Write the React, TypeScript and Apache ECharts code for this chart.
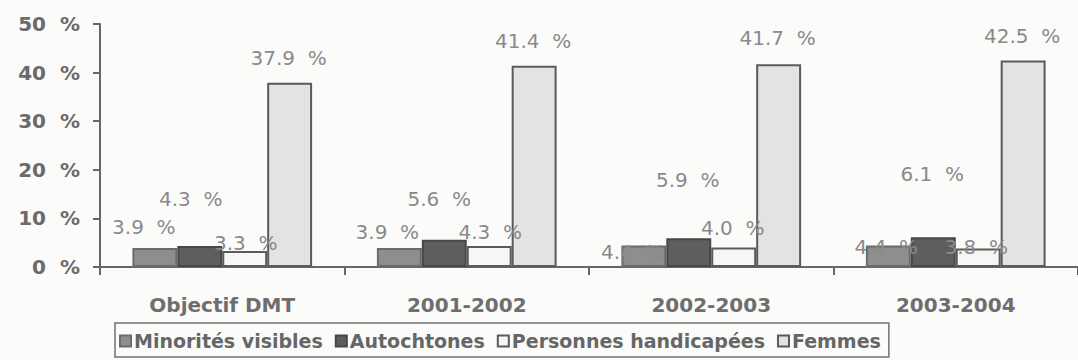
import React, { useEffect, useRef } from "react";
import * as echarts from "echarts";

// Categories and series values (percent)
const categories = ["Objectif DMT", "2001-2002", "2002-2003", "2003-2004"];
const minoritesVisibles = [3.9, 3.9, 4.4, 4.4];
const autochtones = [4.3, 5.6, 5.9, 6.1];
const personnesHandicapees = [3.3, 4.3, 4.0, 3.8];
const femmes = [37.9, 41.4, 41.7, 42.5];

// Value axis
const yMin = 0;
const yMax = 50;
const yStep = 10;

const seriesNames = [
  "Minorités visibles",
  "Autochtones",
  "Personnes handicapées",
  "Femmes",
];

// Hand-placed value label offsets [dx, dy] for each bar
const labelNudges: number[][][] = [
  [[-11, -11], [-12, -6], [-11, 16], [-2, 11]],
  [[-9, -37], [-5, -31], [-1, -48], [-1, -53]],
  [[1, 2], [1, -4], [-1, -10], [-2, 8]],
  [[-1, -15], [-1, -15], [-1, -16], [-1, -14]],
];

const fills = ["#8e8e8e", "#5e5e5e", "#f6f6f6", "#e3e3e3"];
const borders = ["#6b6b6b", "#474747", "#5a5a5a", "#5a5a5a"];

const FONT = "'DejaVu Sans', 'Liberation Sans', sans-serif";

function buildSeries() {
  const values = [minoritesVisibles, autochtones, personnesHandicapees, femmes];
  return values.map((vals, si) => ({
    name: seriesNames[si],
    type: "bar",
    barGap: "0%",
    barCategoryGap: "26.5%",
    itemStyle: {
      color: fills[si],
      borderColor: borders[si],
      borderWidth: 2,
    },
    data: vals.map((v, ci) => ({
      value: v,
      label: {
        show: true,
        position: "top",
        distance: 0,
        offset: labelNudges[si][ci],
        formatter: (p: any) => `${Number(p.value).toFixed(1)}\u00a0\u00a0%`,
        color: "#8a8a8a",
        fontFamily: FONT,
        fontSize: 20,
        lineHeight: 20,
      },
    })),
  }));
}

export default function App() {
  const ref = useRef<HTMLDivElement>(null);

  useEffect(() => {
    if (!ref.current) return;
    const chart = echarts.init(ref.current, undefined, { renderer: "svg" });
    chart.setOption({
      animation: false,
      backgroundColor: "#fbfbfa",
      grid: { left: 100, top: 24, width: 980, height: 243 },
      legend: {
        left: 115,
        top: 323,
        orient: "horizontal",
        icon: "rect",
        itemWidth: 11,
        itemHeight: 11,
        itemGap: 12,
        borderColor: "#707070",
        borderWidth: 1.5,
        borderRadius: 0,
        padding: [8, 8, 6, 4],
        textStyle: {
          color: "#666666",
          fontFamily: FONT,
          fontWeight: "bold",
          fontSize: 19,
          lineHeight: 20,
          padding: [0, 0, 0, -2],
        },
        data: seriesNames,
      },
      xAxis: {
        type: "category",
        data: categories,
        axisLine: { lineStyle: { color: "#666666", width: 2 } },
        axisTick: {
          show: true,
          alignWithLabel: false,
          length: 8,
          lineStyle: { color: "#666666", width: 2 },
        },
        axisLabel: {
          margin: 28,
          color: "#6e6e6e",
          fontFamily: FONT,
          fontWeight: "bold",
          fontSize: 20,
          lineHeight: 20,
        },
      },
      yAxis: {
        type: "value",
        min: yMin,
        max: yMax,
        interval: yStep,
        splitLine: { show: false },
        axisLine: { show: true, lineStyle: { color: "#666666", width: 2 } },
        axisTick: {
          show: true,
          length: 7,
          lineStyle: { color: "#666666", width: 2 },
        },
        axisLabel: {
          margin: 20,
          color: "#6a6a6a",
          fontFamily: FONT,
          fontWeight: "bold",
          fontSize: 20,
          formatter: (v: number) => `${v}\u00a0\u00a0%`,
        },
      },
      series: buildSeries(),
    });
    return () => chart.dispose();
  }, []);

  return (
    <div
      ref={ref}
      style={{ position: "fixed", left: 0, top: 0, width: 1078, height: 360 }}
    />
  );
}
